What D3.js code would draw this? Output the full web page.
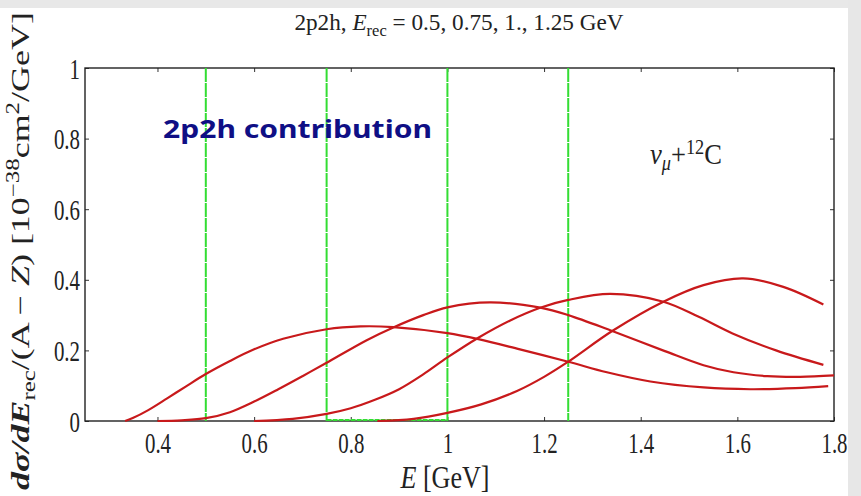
<!DOCTYPE html>
<html>
<head>
<meta charset="utf-8">
<script src="https://cdn.jsdelivr.net/npm/d3@7"></script>
<style>
  body { margin: 0; background: #fff; }
  svg { display: block; }
  .serif { font-family: "Liberation Serif", "Times New Roman", serif; }
</style>
</head>
<body>
<svg id="chart" width="861" height="496"></svg>
<script>
// E_rec values (green markers)
const erec = [0.5, 0.75, 1.0, 1.25];

// d sigma / dE_rec: [E, value]
const curve050 = [[0.333, 0], [0.35, 0.009], [0.38, 0.03], [0.42, 0.064], [0.46, 0.099], [0.5, 0.133],
  [0.55, 0.17], [0.6, 0.203], [0.66, 0.233], [0.75, 0.26], [0.82, 0.268], [0.888, 0.266],
  [1.0, 0.249], [1.064, 0.232], [1.15, 0.203], [1.25, 0.168], [1.33, 0.138], [1.42, 0.112],
  [1.53, 0.095], [1.627, 0.09], [1.72, 0.093], [1.788, 0.099]];
const curve075 = [[0.40, 0], [0.45, 0.002], [0.5, 0.008], [0.55, 0.025], [0.6, 0.055], [0.65, 0.09],
  [0.7, 0.127], [0.75, 0.165], [0.833, 0.229], [0.888, 0.265], [0.95, 0.3], [1.0, 0.322],
  [1.088, 0.336], [1.192, 0.321], [1.25, 0.30], [1.341, 0.255], [1.45, 0.198], [1.53, 0.158],
  [1.592, 0.138], [1.662, 0.127], [1.73, 0.125], [1.80, 0.129]];
const curve100 = [[0.60, 0], [0.68, 0.006], [0.75, 0.02], [0.8, 0.036], [0.85, 0.06], [0.9, 0.09],
  [0.95, 0.132], [1.0, 0.18], [1.064, 0.236], [1.13, 0.285], [1.192, 0.321], [1.25, 0.343],
  [1.337, 0.36], [1.447, 0.338], [1.52, 0.295], [1.59, 0.248], [1.68, 0.2], [1.778, 0.159]];
const curve125 = [[0.855, 0], [0.93, 0.006], [1.0, 0.023], [1.07, 0.047], [1.144, 0.085], [1.2, 0.125],
  [1.25, 0.168], [1.341, 0.255], [1.447, 0.338], [1.53, 0.385], [1.612, 0.404], [1.695, 0.38],
  [1.778, 0.33]];

const xTicks = [0.4, 0.6, 0.8, 1.0, 1.2, 1.4, 1.6, 1.8];
const yTicks = [0, 0.2, 0.4, 0.6, 0.8, 1];

const svg = d3.select('#chart');

// grey page edges
svg.append('rect').attr('x', 0).attr('y', 0).attr('width', 861).attr('height', 8).attr('fill', '#e8e8e8');
svg.append('rect').attr('x', 848).attr('y', 0).attr('width', 13).attr('height', 496).attr('fill', '#e7e7e7');

const x = d3.scaleLinear().domain([0.25, 1.8]).range([85, 834]);
const y = d3.scaleLinear().domain([0, 1]).range([421, 68]);

const sx = 0.72; // the latex fonts are narrow

// squeeze a text horizontally so it is w pixels wide
function fitWidth(t, tx, ty, w, rot) {
  const bw = t.node().getBBox().width;
  t.attr('transform', `translate(${tx},${ty})${rot ? ' rotate(' + rot + ')' : ''} scale(${w / bw},1)`);
}

const fmt = d => d === 0 ? '0' : d === 1 ? '1' : d3.format('.1f')(d);

// axes, ticks inward
const gx = svg.append('g').attr('transform', `translate(0,${y(0)})`)
  .call(d3.axisBottom(x).tickValues(xTicks).tickSize(-4).tickPadding(11).tickFormat(fmt));
svg.append('g').attr('transform', `translate(0,${y(1)})`)
  .call(d3.axisTop(x).tickValues(xTicks).tickSize(-4).tickFormat(''));
const gy = svg.append('g').attr('transform', `translate(${x(0.25)},0)`)
  .call(d3.axisLeft(y).tickValues(yTicks).tickSize(-4).tickPadding(5 / sx).tickFormat(fmt));
svg.append('g').attr('transform', `translate(${x(1.8)},0)`)
  .call(d3.axisRight(y).tickValues(yTicks).tickSize(-4).tickFormat(''));

svg.selectAll('.domain').remove();
svg.selectAll('.tick line').attr('stroke', '#333');
[gx, gy].forEach(g => g.selectAll('text')
  .attr('class', 'serif')
  .style('font-size', '29px')
  .attr('fill', '#222')
  .attr('transform', `scale(${sx},1)`));
gy.selectAll('text').attr('dy', '0.35em');

// frame
svg.append('rect')
  .attr('x', x(0.25)).attr('y', y(1))
  .attr('width', x(1.8) - x(0.25)).attr('height', y(0) - y(1))
  .attr('fill', 'none').attr('stroke', '#222').attr('stroke-width', 1.4);

// green E_rec markers
svg.selectAll('.erec').data(erec).join('line')
  .attr('class', 'erec')
  .attr('x1', d => x(d)).attr('x2', d => x(d))
  .attr('y1', y(1)).attr('y2', y(0))
  .attr('stroke', '#33dd33').attr('stroke-width', 2)
  .attr('stroke-dasharray', '14,1');
svg.append('line')
  .attr('x1', x(erec[1])).attr('x2', x(erec[2]))
  .attr('y1', y(0) - 1).attr('y2', y(0) - 1)
  .attr('stroke', '#33dd33').attr('stroke-width', 2)
  .attr('stroke-dasharray', '5,1');

// curves
const line = d3.line().x(d => x(d[0])).y(d => y(d[1])).curve(d3.curveCatmullRom.alpha(0.5));
svg.selectAll('.curve').data([curve050, curve075, curve100, curve125]).join('path')
  .attr('class', 'curve')
  .attr('d', line)
  .attr('fill', 'none')
  .attr('stroke', '#c8191b')
  .attr('stroke-width', 2.2);

// title
const title = svg.append('text').attr('class', 'serif')
  .attr('text-anchor', 'middle')
  .style('font-size', '24px').attr('fill', '#222');
title.append('tspan').text('2p2h, ');
title.append('tspan').attr('font-style', 'italic').text('E');
title.append('tspan').attr('dy', 6).style('font-size', '17px').text('rec');
title.append('tspan').attr('dy', -6).text(' = 0.5, 0.75, 1., 1.25 GeV');
fitWidth(title, 459, 30, 330);

// x label
const xl = svg.append('text').attr('class', 'serif')
  .attr('text-anchor', 'middle')
  .style('font-size', '31px').attr('fill', '#222');
xl.append('tspan').attr('font-style', 'italic').text('E');
xl.append('tspan').text(' [GeV]');
fitWidth(xl, 445, 488, 90);

// y label
const yl = svg.append('text').attr('class', 'serif')
  .attr('text-anchor', 'middle')
  .style('font-size', '26px').attr('fill', '#222');
yl.append('tspan').attr('font-style', 'italic').attr('font-weight', 'bold').text('dσ/dE');
yl.append('tspan').attr('dy', 6).style('font-size', '18px').text('rec');
yl.append('tspan').attr('dy', -6).text('/(A − ');
yl.append('tspan').attr('font-style', 'italic').text('Z');
yl.append('tspan').text(') [10');
yl.append('tspan').attr('dy', -10).style('font-size', '18px').text('−38');
yl.append('tspan').attr('dy', 10).text('cm');
yl.append('tspan').attr('dy', -10).style('font-size', '18px').text('2');
yl.append('tspan').attr('dy', 10).text('/GeV]');
fitWidth(yl, 29, 251, 478, -90);

// nu_mu + 12C
const nu = svg.append('text').attr('class', 'serif')
  .style('font-size', '29px').attr('fill', '#222');
nu.append('tspan').attr('font-style', 'italic').text('ν');
nu.append('tspan').attr('dy', 6).attr('font-style', 'italic').style('font-size', '20px').text('μ');
nu.append('tspan').attr('dy', -6).text('+');
nu.append('tspan').attr('dy', -10).style('font-size', '20px').text('12');
nu.append('tspan').attr('dy', 10).text('C');
fitWidth(nu, 650, 164, 72);

// annotation
svg.append('text')
  .attr('x', 163).attr('y', 138)
  .style('font-family', '"Comic Sans MS", "Noto Sans", sans-serif')
  .style('font-weight', 'bold')
  .style('font-size', '25px')
  .attr('fill', '#0f0f85')
  .attr('textLength', 269)
  .attr('lengthAdjust', 'spacingAndGlyphs')
  .text('2p2h contribution');
</script>
</body>
</html>
